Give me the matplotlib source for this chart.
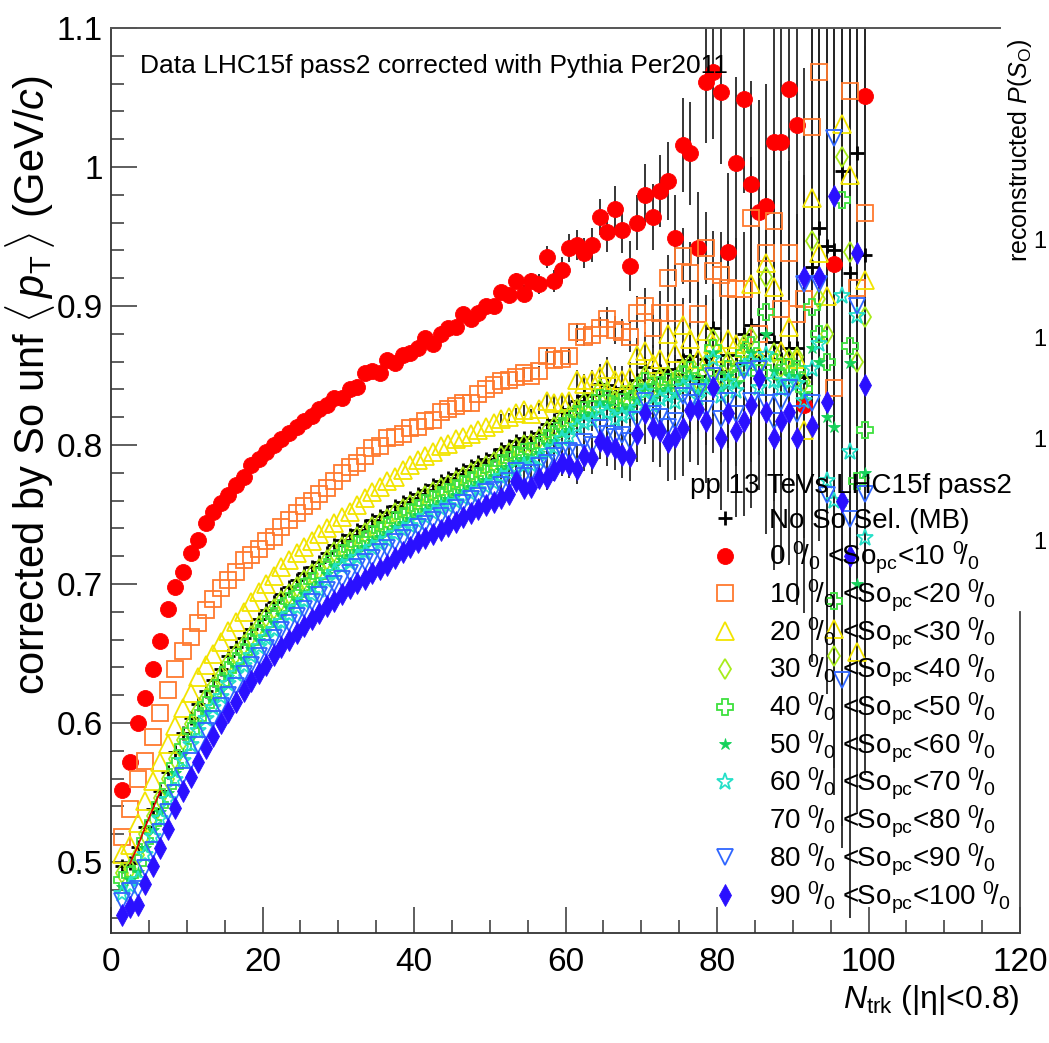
import numpy as np
import matplotlib
matplotlib.use("Agg")
import matplotlib.pyplot as plt
from matplotlib.lines import Line2D
from matplotlib.ticker import MultipleLocator, FuncFormatter

W, H = 1049, 1043
FONT = "Liberation Sans"
plt.rcParams["font.family"] = [FONT, "DejaVu Sans"]
plt.rcParams["mathtext.fontset"] = "custom"
plt.rcParams["mathtext.rm"] = FONT
plt.rcParams["mathtext.it"] = FONT + ":italic"
plt.rcParams["mathtext.bf"] = FONT + ":bold"

# ---------------- data ----------------
ntrk = np.arange(1, 100) + 0.5   # bin centres, N_trk = 1..99

mb = [0.497, 0.499, 0.511, 0.525, 0.538, 0.551, 0.565, 0.579, 0.593, 0.604,
      0.614, 0.623, 0.631, 0.639, 0.648, 0.655, 0.661, 0.668, 0.675, 0.681,
      0.687, 0.693, 0.698, 0.703, 0.708, 0.712, 0.716, 0.722, 0.728, 0.732,
      0.735, 0.739, 0.742, 0.746, 0.749, 0.752, 0.756, 0.759, 0.762, 0.765,
      0.768, 0.771, 0.774, 0.776, 0.779, 0.782, 0.785, 0.788, 0.790, 0.793,
      0.797, 0.799, 0.803, 0.805, 0.806, 0.809, 0.815, 0.818, 0.824, 0.826,
      0.832, 0.835, 0.836, 0.844, 0.843, 0.838, 0.841, 0.842, 0.847, 0.856,
      0.848, 0.853, 0.855, 0.851, 0.861, 0.864, 0.850, 0.862, 0.884, 0.853,
      0.865, 0.858, 0.880, 0.886, 0.864, 0.880, 0.874, 0.862, 0.870, 0.870,
      0.849, 0.928, 0.956, 0.943, 0.940, 0.997, 0.924, 1.010, 0.937]

so_0_10 = [0.552, 0.572, 0.600, 0.618, 0.639, 0.659, 0.682, 0.698, 0.709, 0.722,
           0.732, 0.744, 0.752, 0.758, 0.764, 0.771, 0.777, 0.786, 0.790, 0.795,
           0.800, 0.804, 0.809, 0.813, 0.817, 0.821, 0.826, 0.829, 0.834, 0.834,
           0.840, 0.842, 0.852, 0.853, 0.852, 0.861, 0.859, 0.865, 0.866, 0.870,
           0.877, 0.873, 0.880, 0.884, 0.885, 0.894, 0.891, 0.895, 0.900, 0.900,
           0.910, 0.908, 0.918, 0.909, 0.918, 0.916, 0.935, 0.918, 0.926, 0.942,
           0.944, 0.938, 0.944, 0.964, 0.953, 0.970, 0.955, 0.929, 0.960, 0.980,
           0.964, 0.983, 0.990, 0.949, 1.016, 1.010, 0.942, 1.061, 1.068, 1.054,
           0.939, 1.003, 1.049, 0.988, 0.968, 0.972, 1.018, 1.018, 1.056, 1.030,
           0.829, 1.140, 1.170, 1.120, 0.930, 1.150, 1.190, 1.130, 1.051]

so_10_20 = [0.518, 0.538, 0.560, 0.573, 0.590, 0.607, 0.624, 0.639, 0.652, 0.662,
            0.672, 0.681, 0.689, 0.697, 0.703, 0.709, 0.717, 0.721, 0.725, 0.731,
            0.734, 0.741, 0.746, 0.751, 0.756, 0.760, 0.765, 0.769, 0.774, 0.780,
            0.784, 0.787, 0.792, 0.798, 0.799, 0.805, 0.806, 0.808, 0.812, 0.813,
            0.817, 0.818, 0.824, 0.826, 0.828, 0.830, 0.830, 0.837, 0.840, 0.843,
            0.846, 0.847, 0.849, 0.852, 0.850, 0.853, 0.864, 0.861, 0.862, 0.864,
            0.881, 0.878, 0.879, 0.884, 0.891, 0.883, 0.881, 0.878, 0.895, 0.900,
            0.884, 0.895, 0.920, 0.895, 0.936, 0.924, 0.894, 0.942, 0.925, 0.922,
            0.913, 0.912, 0.912, 0.963, 0.880, 0.938, 0.961, 0.898, 0.938, 0.894,
            0.905, 1.029, 1.068, 1.130, 0.841, 1.120, 1.055, 0.913, 0.967]

so_20_30 = [0.506, 0.512, 0.528, 0.544, 0.558, 0.572, 0.585, 0.598, 0.611, 0.622,
            0.633, 0.642, 0.650, 0.658, 0.666, 0.673, 0.680, 0.687, 0.694, 0.700,
            0.706, 0.712, 0.717, 0.722, 0.727, 0.731, 0.736, 0.740, 0.744, 0.748,
            0.752, 0.757, 0.762, 0.766, 0.770, 0.774, 0.777, 0.782, 0.786, 0.789,
            0.792, 0.795, 0.799, 0.801, 0.804, 0.806, 0.808, 0.811, 0.813, 0.816,
            0.819, 0.820, 0.823, 0.825, 0.822, 0.826, 0.832, 0.830, 0.831, 0.832,
            0.847, 0.844, 0.847, 0.850, 0.855, 0.847, 0.847, 0.849, 0.865, 0.868,
            0.858, 0.862, 0.880, 0.866, 0.886, 0.876, 0.862, 0.882, 0.873, 0.866,
            0.876, 0.873, 0.870, 0.916, 0.864, 0.931, 0.914, 0.868, 0.885, 0.862,
            0.811, 0.978, 0.938, 0.907, 0.668, 1.031, 0.994, 0.651, 0.919]

so_30_40 = [0.492, 0.495, 0.505, 0.520, 0.533, 0.546, 0.560, 0.574, 0.588, 0.599,
            0.609, 0.618, 0.626, 0.634, 0.643, 0.650, 0.656, 0.663, 0.670, 0.676,
            0.682, 0.688, 0.693, 0.698, 0.703, 0.707, 0.711, 0.717, 0.723, 0.727,
            0.730, 0.734, 0.737, 0.741, 0.744, 0.747, 0.751, 0.754, 0.757, 0.760,
            0.763, 0.766, 0.769, 0.771, 0.774, 0.777, 0.780, 0.783, 0.785, 0.788,
            0.792, 0.794, 0.798, 0.800, 0.801, 0.804, 0.810, 0.813, 0.819, 0.821,
            0.826, 0.830, 0.831, 0.840, 0.838, 0.832, 0.836, 0.838, 0.842, 0.850,
            0.843, 0.848, 0.850, 0.846, 0.855, 0.858, 0.846, 0.858, 0.876, 0.850,
            0.860, 0.853, 0.872, 0.878, 0.858, 0.921, 0.866, 0.856, 0.862, 0.863,
            0.845, 0.947, 0.905, 0.880, 0.648, 1.007, 0.939, 0.860, 0.892]

so_40_50 = [0.487, 0.491, 0.499, 0.515, 0.528, 0.541, 0.555, 0.569, 0.583, 0.594,
            0.604, 0.613, 0.621, 0.629, 0.638, 0.645, 0.651, 0.658, 0.665, 0.671,
            0.677, 0.683, 0.688, 0.693, 0.698, 0.702, 0.706, 0.712, 0.718, 0.722,
            0.725, 0.729, 0.732, 0.736, 0.739, 0.742, 0.746, 0.749, 0.752, 0.755,
            0.758, 0.761, 0.764, 0.766, 0.769, 0.772, 0.775, 0.778, 0.780, 0.783,
            0.787, 0.789, 0.793, 0.795, 0.796, 0.799, 0.805, 0.808, 0.814, 0.816,
            0.822, 0.825, 0.826, 0.834, 0.833, 0.828, 0.831, 0.832, 0.837, 0.846,
            0.838, 0.843, 0.845, 0.841, 0.851, 0.854, 0.842, 0.852, 0.870, 0.845,
            0.855, 0.848, 0.866, 0.872, 0.852, 0.896, 0.860, 0.850, 0.856, 0.855,
            0.840, 0.899, 0.880, 0.860, 0.688, 0.976, 0.871, 0.774, 0.811]

so_50_60 = [0.482, 0.487, 0.493, 0.510, 0.523, 0.536, 0.550, 0.564, 0.578, 0.589,
            0.599, 0.608, 0.616, 0.624, 0.633, 0.640, 0.646, 0.653, 0.660, 0.666,
            0.672, 0.678, 0.683, 0.688, 0.693, 0.697, 0.701, 0.707, 0.713, 0.717,
            0.720, 0.724, 0.727, 0.731, 0.734, 0.737, 0.741, 0.744, 0.747, 0.750,
            0.753, 0.756, 0.759, 0.761, 0.764, 0.767, 0.770, 0.773, 0.775, 0.778,
            0.782, 0.784, 0.788, 0.790, 0.791, 0.794, 0.800, 0.803, 0.809, 0.811,
            0.818, 0.821, 0.822, 0.830, 0.828, 0.823, 0.826, 0.827, 0.832, 0.842,
            0.833, 0.838, 0.840, 0.836, 0.846, 0.849, 0.838, 0.846, 0.866, 0.840,
            0.850, 0.844, 0.860, 0.866, 0.846, 0.880, 0.853, 0.845, 0.850, 0.850,
            0.836, 0.870, 0.860, 0.820, 0.813, 0.760, 0.859, 0.700, 0.780]

so_60_70 = [0.477, 0.483, 0.487, 0.505, 0.518, 0.531, 0.545, 0.559, 0.573, 0.584,
            0.594, 0.603, 0.611, 0.619, 0.628, 0.635, 0.641, 0.648, 0.655, 0.661,
            0.667, 0.673, 0.678, 0.683, 0.688, 0.692, 0.696, 0.702, 0.708, 0.712,
            0.715, 0.719, 0.722, 0.726, 0.729, 0.732, 0.736, 0.739, 0.742, 0.745,
            0.748, 0.751, 0.754, 0.756, 0.759, 0.762, 0.765, 0.768, 0.770, 0.773,
            0.777, 0.779, 0.783, 0.785, 0.786, 0.789, 0.795, 0.798, 0.804, 0.806,
            0.813, 0.816, 0.817, 0.825, 0.823, 0.818, 0.821, 0.822, 0.827, 0.838,
            0.828, 0.833, 0.835, 0.831, 0.842, 0.844, 0.834, 0.841, 0.862, 0.835,
            0.845, 0.839, 0.855, 0.860, 0.841, 0.865, 0.846, 0.840, 0.845, 0.844,
            0.832, 0.855, 0.873, 0.774, 0.760, 0.907, 0.795, 0.893, 0.733]

so_80_90 = [0.472, 0.479, 0.481, 0.496, 0.509, 0.522, 0.536, 0.550, 0.562, 0.573,
            0.584, 0.594, 0.603, 0.612, 0.620, 0.627, 0.635, 0.642, 0.648, 0.654,
            0.661, 0.667, 0.672, 0.677, 0.682, 0.687, 0.692, 0.696, 0.700, 0.704,
            0.708, 0.712, 0.716, 0.719, 0.723, 0.726, 0.730, 0.733, 0.737, 0.741,
            0.743, 0.746, 0.749, 0.752, 0.755, 0.758, 0.761, 0.763, 0.766, 0.768,
            0.771, 0.774, 0.781, 0.778, 0.780, 0.785, 0.787, 0.792, 0.796, 0.796,
            0.794, 0.802, 0.800, 0.812, 0.808, 0.806, 0.807, 0.803, 0.818, 0.832,
            0.822, 0.820, 0.813, 0.817, 0.835, 0.830, 0.838, 0.826, 0.850, 0.819,
            0.832, 0.822, 0.853, 0.832, 0.855, 0.830, 0.817, 0.831, 0.841, 0.822,
            0.916, 0.830, 0.916, 0.764, 1.021, 0.631, 0.747, 0.900, 0.765]

so_90_100 = [0.462, 0.468, 0.469, 0.484, 0.497, 0.510, 0.524, 0.539, 0.551, 0.561,
             0.572, 0.582, 0.591, 0.600, 0.608, 0.615, 0.623, 0.630, 0.636, 0.642,
             0.649, 0.655, 0.660, 0.665, 0.670, 0.675, 0.679, 0.684, 0.688, 0.693,
             0.697, 0.701, 0.704, 0.708, 0.711, 0.714, 0.719, 0.723, 0.727, 0.730,
             0.733, 0.736, 0.739, 0.742, 0.745, 0.748, 0.751, 0.754, 0.757, 0.759,
             0.762, 0.765, 0.774, 0.769, 0.770, 0.776, 0.776, 0.782, 0.787, 0.786,
             0.783, 0.792, 0.791, 0.803, 0.799, 0.798, 0.793, 0.792, 0.808, 0.823,
             0.812, 0.810, 0.802, 0.806, 0.812, 0.825, 0.826, 0.817, 0.842, 0.805,
             0.823, 0.810, 0.817, 0.829, 0.848, 0.824, 0.805, 0.817, 0.824, 0.805,
             0.921, 0.814, 0.921, 0.831, 0.979, 0.760, 0.720, 0.938, 0.843]

# statistical uncertainties (negligible below N_trk = 51)
err_edge = [0.0] * 50 + [
    0.005, 0.005, 0.006, 0.006, 0.006, 0.007, 0.008, 0.008, 0.009, 0.010,
    0.011, 0.011, 0.012, 0.013, 0.014, 0.016, 0.017, 0.018, 0.020, 0.022,
    0.024, 0.026, 0.028, 0.031, 0.034, 0.037, 0.040, 0.044, 0.048, 0.052,
    0.057, 0.062, 0.068, 0.074, 0.080, 0.088, 0.095, 0.100, 0.110, 0.120,
    0.150, 0.170, 0.190, 0.210, 0.230, 0.250, 0.260, 0.270, 0.280]
err_mid = [0.0] * 50 + [
    0.003, 0.003, 0.004, 0.004, 0.004, 0.004, 0.005, 0.005, 0.005, 0.006,
    0.007, 0.007, 0.007, 0.008, 0.008, 0.010, 0.010, 0.011, 0.012, 0.013,
    0.014, 0.016, 0.017, 0.019, 0.020, 0.022, 0.024, 0.026, 0.029, 0.031,
    0.034, 0.037, 0.041, 0.044, 0.048, 0.053, 0.057, 0.060, 0.066, 0.072,
    0.078, 0.084, 0.090, 0.096, 0.100, 0.105, 0.110, 0.115, 0.120]
err_mb = [0.0] * 50 + [
    0.002, 0.002, 0.002, 0.002, 0.002, 0.002, 0.003, 0.003, 0.003, 0.003,
    0.004, 0.004, 0.004, 0.004, 0.004, 0.005, 0.005, 0.006, 0.006, 0.007,
    0.007, 0.008, 0.009, 0.010, 0.010, 0.011, 0.012, 0.013, 0.015, 0.016,
    0.017, 0.019, 0.021, 0.022, 0.024, 0.027, 0.029, 0.030, 0.033, 0.036,
    0.039, 0.042, 0.045, 0.048, 0.054, 0.057, 0.063, 0.069, 0.075]

legend_title = "pp 13 TeVs LHC15f pass2"
plot_title = "Data LHC15f pass2 corrected with Pythia Per2011"

# ---------------- styles ----------------
# (class, values, errors, marker, colour, size, filled)
series = [
    ("MB", mb, err_mb, "+", "black", 10, True),
    ((0, 10), so_0_10, err_edge, "o", "#ff0000", 11.5, True),
    ((10, 20), so_10_20, err_mid, "s", "#ff7a2e", 12, False),
    ((20, 30), so_20_30, err_mid, "^", "#f2e400", 12.5, False),
    ((30, 40), so_30_40, err_mid, "d", "#a8ec1c", 10.5, False),
    ((40, 50), so_40_50, err_mid, "P", "#3ee03e", 11, False),
    ((50, 60), so_50_60, err_mid, "*", "#14d25a", 9, True),
    ((60, 70), so_60_70, err_mid, "*", "#25e0c8", 12.5, False),
    ((70, 80), None, None, "", "white", 1, True),
    ((80, 90), so_80_90, err_mid, "v", "#2f66ff", 11.5, False),
    ((90, 100), so_90_100, err_edge, "d", "#2a10ff", 11, True),
]

for s in series:
    if s[1] is not None:
        assert len(s[1]) == 99 and len(s[2]) == 99, (s[0], len(s[1]), len(s[2]))

# ---------------- figure ----------------
fig = plt.figure(figsize=(W / 100, H / 100), dpi=100)


def fx(px):
    return px / W


def fy(py):
    return 1 - py / H


ax = fig.add_axes([fx(111), fy(933), fx(1020) - fx(111), fy(28) - fy(933)])
ax.set_xlim(0, 120)
ax.set_ylim(0.449, 1.1)


def marker_kw(mk, col, filled):
    kw = dict(mec=col)
    if mk == "+":
        kw["mew"] = 2.0
    elif filled:
        kw["mfc"] = col
        kw["mew"] = 0.6
    else:
        kw["mfc"] = "none"
        kw["mew"] = 1.3
    return kw


for key, vals, err, mk, col, ms, filled in series:
    if vals is None:
        continue
    ax.errorbar(ntrk, vals, yerr=err, fmt=mk, ms=ms, color=col,
                ecolor="#262626", elinewidth=1.3, capsize=0,
                **marker_kw(mk, col, filled))
    if key == "MB":
        # fit-like red line on the first MB points
        ax.plot(ntrk[1:6], np.array(mb)[1:6], color="#e00000", lw=1.2, zorder=5)

# axes style
for side in ("top", "right"):
    ax.spines[side].set_visible(False)
for side in ("left", "bottom"):
    ax.spines[side].set_color("#333333")
    ax.spines[side].set_linewidth(1.3)

ax.xaxis.set_major_locator(MultipleLocator(20))
ax.xaxis.set_minor_locator(MultipleLocator(5))
ax.yaxis.set_major_locator(MultipleLocator(0.1))
ax.yaxis.set_minor_locator(MultipleLocator(0.02))
ax.yaxis.set_major_formatter(FuncFormatter(lambda v, p: f"{v:g}"))
ax.tick_params(which="both", direction="in", colors="#333333", width=1.1,
               top=False, right=False, labelsize=24, labelcolor="black")
ax.tick_params(which="major", length=19)
ax.tick_params(which="minor", length=9.5)
ax.tick_params(axis="x", pad=10)
ax.tick_params(axis="y", pad=6)

# partial frame lines (as in the overlaid canvas)
fig.add_artist(Line2D([fx(111), fx(1000)], [fy(28), fy(28)],
                      transform=fig.transFigure, color="#555555", lw=1.4))
fig.add_artist(Line2D([fx(1020), fx(1020)], [fy(612), fy(933)],
                      transform=fig.transFigure, color="#444444", lw=1.3))

# texts
fig.text(fx(140), fy(73), plot_title, fontsize=19, ha="left", va="baseline")
fig.text(fx(30), fy(385),
         r"corrected by So unf $\langle\,p_{\rm T}\,\rangle$ (GeV/$c$)",
         rotation=90, fontsize=30, ha="center", va="center")
fig.text(fx(1020), fy(1000), r"$N_{\rm trk}$ (|η|<0.8)", fontsize=23,
         ha="right", va="center")
fig.text(fx(1020), fy(150), r"reconstructed $P(S_{\rm O})$", rotation=90,
         fontsize=18, ha="center", va="center")
for py in (242, 340, 441, 543):
    fig.text(fx(1033), fy(py), "1", fontsize=17, ha="left", va="center")

# legend (manual layout)
fig.text(fx(690), fy(493), legend_title, fontsize=20, ha="left",
         va="baseline")
row0, pitch = 518, 37.7
for i, (key, vals, err, mk, col, ms, filled) in enumerate(series):
    yc = row0 + pitch * i
    if key == "MB":
        label = "No So Sel. (MB)"
    else:
        lo, hi = key
        label = (f"{lo} " + r"$^{0}\!/_{0}$" + " <So" + r"$_{\rm pc}$" +
                 f"<{hi} " + r"$^{0}\!/_{0}$")
    fig.text(fx(769), fy(yc + 10), label, fontsize=20, ha="left",
             va="baseline")
    if vals is None:
        continue
    fig.add_artist(Line2D([fx(725)], [fy(yc)], marker=mk, ms=ms, color=col,
                          ls="none", transform=fig.transFigure,
                          **marker_kw(mk, col, filled)))

fig.savefig("out.png", dpi=100)
